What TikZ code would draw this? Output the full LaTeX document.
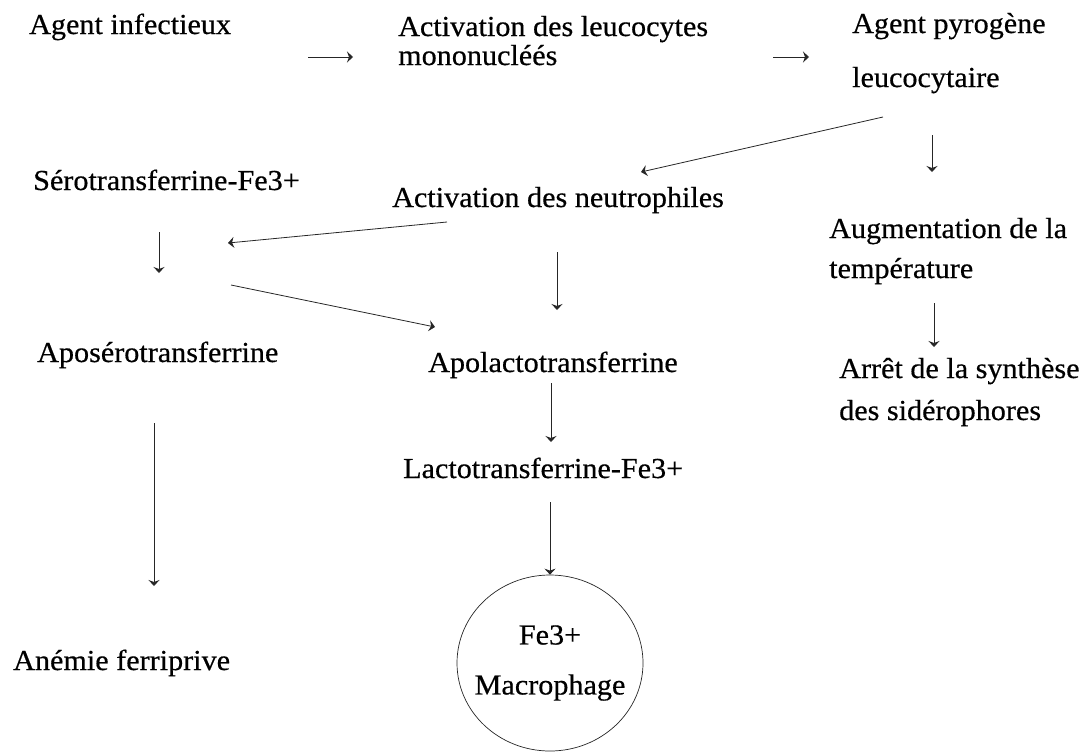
\documentclass[tikz,border=0pt]{standalone}
\usepackage{fontspec}
\setmainfont{Liberation Serif}[FakeStretch=1.04, FakeBold=0.5]
\usepackage{tikz}
\usetikzlibrary{shapes.geometric, arrows.meta, positioning, calc}
\tikzset{
	lbl/.style      ={inner sep=0pt, anchor=base west, align=left},
	cell/.style     ={ellipse, draw=black!85, line width=0.7pt, minimum width=186pt, minimum height=176pt, inner xsep=-12pt, inner ysep=0pt, align=center},
	flowarrow/.style={-{Stealth[length=6pt, width=11pt, inset=2pt]}, line width=0.8pt, draw=black!85},
}
\begin{document}
\begin{tikzpicture}[x=1pt, y=-1pt, every node/.style={font=\fontsize{29pt}{29pt}\selectfont}]
	\useasboundingbox (0,0) rectangle (1086,753);
	% top row (multi-line labels sit on their last baseline)
	\node[lbl] (agent) at (29,34) {Agent infectieux};
	\node[lbl] (leuco) at (398,65) {Activation des leucocytes\\mononucléés};
	\node[lbl, font=\fontsize{29pt}{54pt}\selectfont] (pyro) at (852,87) {Agent pyrogène\\leucocytaire};
	% middle
	\node[lbl] (sero) at (33,190) {Sérotransferrine-Fe3+};
	\node[lbl] (neutro) at (392,207) {Activation des neutrophiles};
	\node[lbl, font=\fontsize{29pt}{40pt}\selectfont] (temp) at (829,278) {Augmentation de la\\température};
	\node[lbl] (aposero) at (37,362) {Aposérotransferrine};
	\node[lbl] (apolact) at (428,372) {Apolactotransferrine};
	\node[lbl, font=\fontsize{29pt}{42pt}\selectfont] (arret) at (839,420) {Arrêt de la synthèse\\des sidérophores};
	\node[lbl] (lacto) at (403,478) {Lactotransferrine-Fe3+};
	% bottom
	\node[lbl] (anemie) at (13,670) {Anémie ferriprive};
	\node[cell, font=\fontsize{29pt}{50pt}\selectfont] (macro) at (550,663) {Fe3+\\Macrophage};
	% arrows
	\draw[flowarrow] ([shift={(279,23)}]agent.base west) -- ([shift={(-45,-8)}]leuco.base west);
	\draw[flowarrow] ([shift={(375,-8)}]leuco.base west) -- ([shift={(-43,-30)}]pyro.base west);
	\draw[flowarrow] ([shift={(31,30)}]pyro.base west) -- ([shift={(249,-35)}]neutro.base west);
	\draw[flowarrow] ([shift={(80,48)}]pyro.base west) -- ([shift={(103,-106)}]temp.base west);
	\draw[flowarrow] ([shift={(105,25)}]temp.base west) -- ([shift={(95,-73)}]arret.base west);
	\draw[flowarrow] ([shift={(55,15)}]neutro.base west) -- ([shift={(195,53)}]sero.base west);
	\draw[flowarrow] ([shift={(126,42)}]sero.base west) -- ([shift={(122,-89)}]aposero.base west);
	\draw[flowarrow] ([shift={(198,95)}]sero.base west) -- ([shift={(7,-45)}]apolact.base west);
	\draw[flowarrow] ([shift={(165,45)}]neutro.base west) -- ([shift={(129,-62)}]apolact.base west);
	\draw[flowarrow] ([shift={(117,61)}]aposero.base west) -- ([shift={(141,-84)}]anemie.base west);
	\draw[flowarrow] ([shift={(123,11)}]apolact.base west) -- ([shift={(148,-36)}]lacto.base west);
	\draw[flowarrow] ([shift={(147,24)}]lacto.base west) -- (macro.north);
\end{tikzpicture}
\end{document}
